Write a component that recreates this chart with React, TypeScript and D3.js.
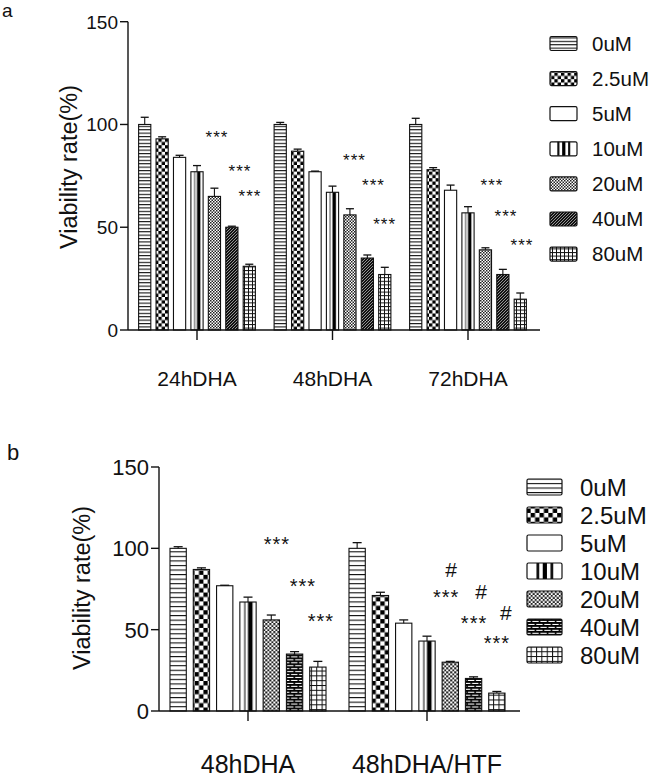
import React from 'react';
import * as d3 from 'd3';

// ---------- data ----------
const series = ['0uM', '2.5uM', '5uM', '10uM', '20uM', '40uM', '80uM'];
const yTicks = [0, 50, 100, 150];

const groupsA = ['24hDHA', '48hDHA', '72hDHA'];
const meanA24 = [100, 93, 84, 77, 65, 50, 31];
const errA24 = [3.5, 1, 1, 3, 4, 0.5, 1];
const meanA48 = [100, 87, 77, 67, 56, 35, 27];
const errA48 = [1, 1, 0.3, 3, 3, 1.5, 3.5];
const meanA72 = [100, 78, 68, 57, 39, 27, 15];
const errA72 = [3, 1, 2.5, 3, 1, 2.5, 3];

const groupsB = ['48hDHA', '48hDHA/HTF'];
const meanB48 = [100, 87, 77, 67, 56, 35, 27];
const errB48 = [1, 1, 0.3, 3, 3, 1.5, 3.5];
const meanBHTF = [100, 71, 54, 43, 30, 20, 11];
const errBHTF = [3.5, 2, 2, 3, 0.5, 1, 1];

// annotations: group index, slot (in bar units), level (value units), text
const annA = [
  { g: 0, slot: 4.15, level: 95.4, text: '***' },
  { g: 0, slot: 5.47, level: 79.3, text: '***' },
  { g: 0, slot: 6.04, level: 66.7, text: '***' },
  { g: 1, slot: 4.26, level: 84.2, text: '***' },
  { g: 1, slot: 5.35, level: 72.5, text: '***' },
  { g: 1, slot: 5.99, level: 53.5, text: '***' },
  { g: 2, slot: 4.38, level: 72.5, text: '***' },
  { g: 2, slot: 5.18, level: 57.4, text: '***' },
  { g: 2, slot: 6.1, level: 43.3, text: '***' },
];
const annB = [
  { g: 0, slot: 4.24, level: 105, text: '***' },
  { g: 0, slot: 5.36, level: 79.3, text: '***' },
  { g: 0, slot: 6.13, level: 57.8, text: '***' },
  { g: 1, slot: 3.82, level: 72.5, text: '***' },
  { g: 1, slot: 5.02, level: 56.5, text: '***' },
  { g: 1, slot: 6.0, level: 44.3, text: '***' },
  { g: 1, slot: 4.03, level: 87.3, text: '#' },
  { g: 1, slot: 5.32, level: 73.8, text: '#' },
  { g: 1, slot: 6.39, level: 60.8, text: '#' },
];

const FONT = '"Liberation Sans", Arial, Helvetica, sans-serif';
const INK = '#111';

function Patterns({ p, s, brick }: { p: string; s: number; brick: boolean }) {
  const c = 3.3 * s;
  const f = 1.5 * s;
  return (
    <defs>
      <pattern id={p + 'h'} patternUnits="userSpaceOnUse" width={6} height={3.4 * s}>
        <rect width={6} height={3.4 * s} fill="#fff" />
        <rect y={0} width={6} height={1.1} fill="#111" />
      </pattern>
      <pattern id={p + 'c'} patternUnits="userSpaceOnUse" width={2 * c} height={2 * c}>
        <rect width={2 * c} height={2 * c} fill="#fff" />
        <rect width={c} height={c} fill="#000" />
        <rect x={c} y={c} width={c} height={c} fill="#000" />
      </pattern>
      <pattern id={p + 'v'} patternUnits="objectBoundingBox" patternContentUnits="objectBoundingBox" width={1} height={1}>
        <rect width={1} height={1} fill="#fff" />
        <rect x={0.27} width={0.07} height={1} fill="#222" />
        <rect x={0.5} width={0.28} height={1} fill="#000" />
      </pattern>
      <pattern id={p + 'vl'} patternUnits="objectBoundingBox" patternContentUnits="objectBoundingBox" width={1} height={1}>
        <rect width={1} height={1} fill="#fff" />
        <rect x={0.27} width={0.08} height={1} fill="#111" />
        <rect x={0.45} width={0.12} height={1} fill="#000" />
        <rect x={0.67} width={0.08} height={1} fill="#111" />
      </pattern>
      <pattern id={p + 'f'} patternUnits="userSpaceOnUse" width={2 * f} height={2 * f}>
        <rect width={2 * f} height={2 * f} fill="#fff" />
        <rect width={f} height={f} fill="#222" />
        <rect x={f} y={f} width={f} height={f} fill="#222" />
      </pattern>
      {brick ? (
        <pattern id={p + 'd'} patternUnits="userSpaceOnUse" width={6 * s} height={4.4 * s}>
          <rect width={6 * s} height={4.4 * s} fill="#fff" />
          <rect y={0} width={6 * s} height={1.4 * s} fill="#000" />
          <rect y={2.2 * s} width={6 * s} height={1.4 * s} fill="#000" />
          <rect x={0} y={0} width={1.2 * s} height={2.2 * s} fill="#000" />
          <rect x={3 * s} y={2.2 * s} width={1.2 * s} height={2.2 * s} fill="#000" />
        </pattern>
      ) : (
        <pattern id={p + 'd'} patternUnits="userSpaceOnUse" width={3} height={3}>
          <rect width={3} height={3} fill="#111" />
          <path d="M0,3 L3,0" stroke="#ccc" strokeWidth={0.7} />
        </pattern>
      )}
      <pattern id={p + 'g'} patternUnits="userSpaceOnUse" width={4 * s} height={3.6 * s}>
        <rect width={4 * s} height={3.6 * s} fill="#fff" />
        <rect width={4 * s} height={1} fill="#111" />
        <rect width={1} height={3.6 * s} fill="#111" />
      </pattern>
    </defs>
  );
}

const fillKeys = ['h', 'c', 'w', 'v', 'f', 'd', 'g'];
function fillFor(p: string, i: number, legend = false) {
  const k = fillKeys[i];
  if (k === 'w') return '#fff';
  if (k === 'v' && legend) return `url(#${p}vl)`;
  return `url(#${p}${k})`;
}

type PanelProps = {
  p: string;
  s: number;
  brick: boolean;
  letter: string;
  letterPos: [number, number];
  letterSize: number;
  groups: string[];
  means: number[][];
  errs: number[][];
  ann: { g: number; slot: number; level: number; text: string }[];
  yRange: [number, number];
  axisX: number;
  axisEnd: number;
  bandRange: [number, number];
  halfSpan: number;
  tickSize: number;
  tickFont: number;
  xFont: number;
  xLabelY: number;
  yLabelX: number;
  yLabelY: number;
  yLabelFont: number;
  starFont: number;
  hashFont: number;
  capW: number;
  legX: number;
  legW: number;
  legH: number;
  legY0: number;
  legStep: number;
  legTextX: number;
  legFont: number;
};

function Panel(P: PanelProps) {
  const y = d3.scaleLinear().domain([0, 150]).range(P.yRange);
  const x0 = d3.scaleBand<string>().domain(P.groups).range(P.bandRange).padding(0);
  const x1 = d3
    .scaleBand<string>()
    .domain(series)
    .range([-P.halfSpan, P.halfSpan])
    .paddingInner(0.3)
    .paddingOuter(0.15);
  const bw = x1.bandwidth();
  const step = x1.step();
  const center = (g: string) => (x0(g) as number) + x0.bandwidth() / 2;
  const y0 = y(0);
  const yTop = y(150);
  return (
    <g>
      <Patterns p={P.p} s={P.s} brick={P.brick} />
      <text x={P.letterPos[0]} y={P.letterPos[1]} fontSize={P.letterSize} fontFamily={FONT} fill={INK}>
        {P.letter}
      </text>
      {/* bars */}
      {P.groups.map((g, gi) =>
        series.map((sname, si) => {
          const v = P.means[gi][si];
          const e = P.errs[gi][si];
          const bx = center(g) + (x1(sname) as number);
          const cx = bx + bw / 2;
          return (
            <g key={g + sname}>
              <rect
                x={bx}
                y={y(v)}
                width={bw}
                height={y0 - y(v)}
                fill={fillFor(P.p, si)}
                stroke={INK}
                strokeWidth={1.1}
              />
              <line x1={cx} x2={cx} y1={y(v)} y2={y(v + e)} stroke={INK} strokeWidth={1.1} />
              <line x1={cx - P.capW / 2} x2={cx + P.capW / 2} y1={y(v + e)} y2={y(v + e)} stroke={INK} strokeWidth={1.3} />
            </g>
          );
        })
      )}
      {/* axes */}
      <line x1={P.axisX} x2={P.axisX} y1={yTop} y2={y0} stroke={INK} strokeWidth={1.4} />
      {yTicks.map((t) => (
        <g key={t}>
          <line x1={P.axisX - P.tickSize} x2={P.axisX} y1={y(t)} y2={y(t)} stroke={INK} strokeWidth={1.4} />
          <text
            x={P.axisX - P.tickSize - 2}
            y={y(t)}
            dy="0.36em"
            textAnchor="end"
            fontSize={P.tickFont}
            fontFamily={FONT}
            fill={INK}
          >
            {t}
          </text>
        </g>
      ))}
      <line x1={P.axisX} x2={P.axisEnd} y1={y0} y2={y0} stroke={INK} strokeWidth={1.4} />
      {P.groups.map((g) => (
        <g key={g}>
          <line x1={center(g)} x2={center(g)} y1={y0} y2={y0 + P.tickSize + 2} stroke={INK} strokeWidth={1.4} />
          <text x={center(g)} y={P.xLabelY} textAnchor="middle" fontSize={P.xFont} fontFamily={FONT} fill={INK}>
            {g}
          </text>
        </g>
      ))}
      <text
        transform={`translate(${P.yLabelX},${P.yLabelY}) rotate(-90)`}
        textAnchor="middle"
        fontSize={P.yLabelFont}
        fontFamily={FONT}
        fill={INK}
      >
        Viability rate(%)
      </text>
      {/* annotations */}
      {P.ann.map((a, i) => {
        const g = P.groups[a.g];
        const ax = center(g) + (a.slot - 3) * step;
        const isHash = a.text === '#';
        const fs = isHash ? P.hashFont : P.starFont;
        const off = isHash ? 0.36 * fs : 0.56 * fs;
        return (
          <text
            key={i}
            x={ax}
            y={y(a.level) + off}
            textAnchor="middle"
            fontSize={fs}
            fontFamily={FONT}
            letterSpacing={isHash ? 0 : 1}
            fill={INK}
          >
            {a.text}
          </text>
        );
      })}
      {/* legend */}
      {series.map((sname, si) => {
        const cy = P.legY0 + si * P.legStep;
        return (
          <g key={sname}>
            <rect
              x={P.legX}
              y={cy - P.legH / 2}
              width={P.legW}
              height={P.legH}
              rx={1.5}
              fill={fillFor(P.p, si, true)}
              stroke={INK}
              strokeWidth={1.2}
            />
            <text x={P.legTextX} y={cy + 0.36 * P.legFont} fontSize={P.legFont} fontFamily={FONT} fill={INK}>
              {sname}
            </text>
          </g>
        );
      })}
    </g>
  );
}

export default function App() {
  return (
    <svg
      width={653}
      height={778}
      style={{ position: 'absolute', left: 0, top: 0, background: '#fff' }}
    >
      <rect width={653} height={778} fill="#fff" />
      <Panel
        p="pa"
        s={1}
        brick={false}
        letter="a"
        letterPos={[2, 17]}
        letterSize={19}
        groups={groupsA}
        means={[meanA24, meanA48, meanA72]}
        errs={[errA24, errA48, errA72]}
        ann={annA}
        yRange={[330, 21.7]}
        axisX={128}
        axisEnd={540}
        bandRange={[129.25, 535.75]}
        halfSpan={61}
        tickSize={8}
        tickFont={19}
        xFont={21}
        xLabelY={386}
        yLabelX={77}
        yLabelY={167}
        yLabelFont={23.5}
        starFont={17}
        hashFont={21}
        capW={8}
        legX={550}
        legW={27}
        legH={14}
        legY0={43.5}
        legStep={35.1}
        legTextX={592}
        legFont={20.5}
      />
      <Panel
        p="pb"
        s={1.34}
        brick={true}
        letter="b"
        letterPos={[7, 460]}
        letterSize={22}
        groups={groupsB}
        means={[meanB48, meanBHTF]}
        errs={[errB48, errBHTF]}
        ann={annB}
        yRange={[711, 467]}
        axisX={159}
        axisEnd={520}
        bandRange={[158.5, 516.5]}
        halfSpan={81.5}
        tickSize={8}
        tickFont={22}
        xFont={25}
        xLabelY={773}
        yLabelX={90}
        yLabelY={588}
        yLabelFont={23.5}
        starFont={20}
        hashFont={21}
        capW={9}
        legX={527}
        legW={35}
        legH={16}
        legY0={487}
        legStep={28}
        legTextX={580}
        legFont={24}
      />
    </svg>
  );
}
